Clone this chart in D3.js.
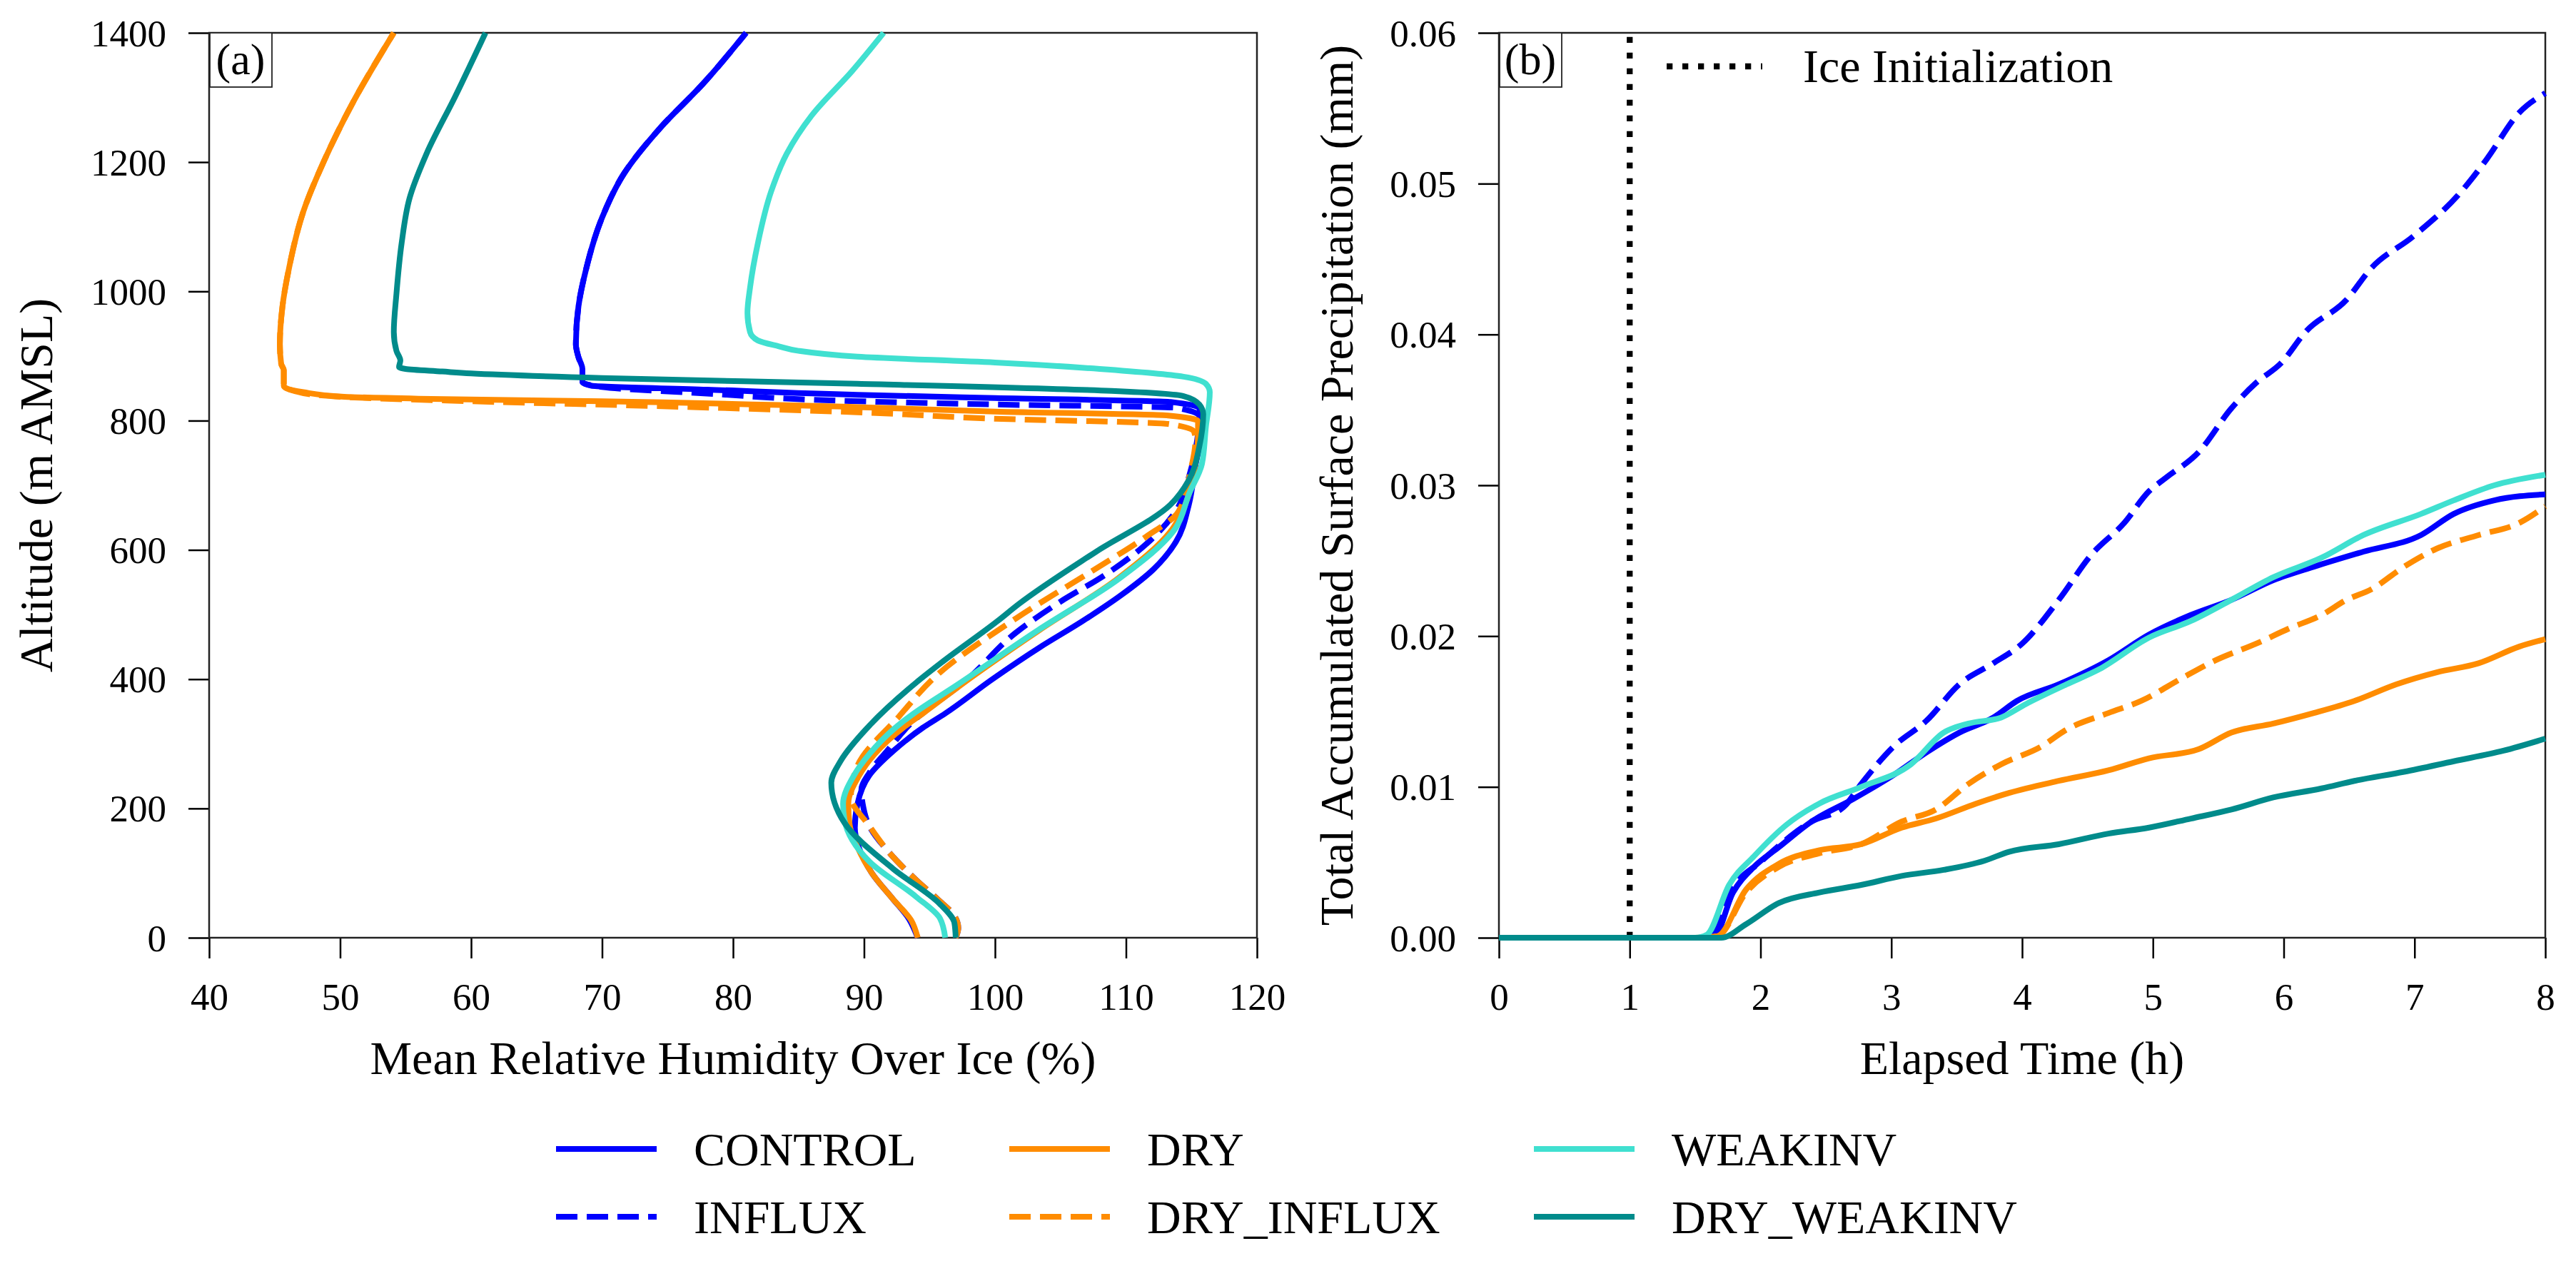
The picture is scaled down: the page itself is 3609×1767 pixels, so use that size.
<!DOCTYPE html>
<html>
<head>
<meta charset="utf-8">
<script src="https://cdn.jsdelivr.net/npm/d3@7"></script>
<style>
  body { margin: 0; background: #fff; }
  text { font-family: "Liberation Serif", "Times New Roman", serif; }
</style>
</head>
<body>
<div id="chart"></div>
<script>
// figure size and panel boxes
const width = 3609;
const height = 1767;
const panelA = {left: 293, right: 1761, top: 46, bottom: 1314};
const panelB = {left: 2100, right: 3566, top: 46, bottom: 1314};
const tickFont = 53;
const labelFont = 66;
const tagFont = 62;

// series names and colours
const seriesNames = ["CONTROL", "INFLUX", "DRY", "DRY_INFLUX", "WEAKINV", "DRY_WEAKINV"];
const seriesColors = ["#0000ff", "#0000ff", "#ff8c00", "#ff8c00", "#40e0d0", "#008b8b"];
const seriesDashed = [false, true, false, true, false, false];

// tick values
const rhTicks = [40, 50, 60, 70, 80, 90, 100, 110, 120];
const altTicks = [0, 200, 400, 600, 800, 1000, 1200, 1400];
const timeTicks = [0, 1, 2, 3, 4, 5, 6, 7, 8];
const precipTicks = [0, 0.01, 0.02, 0.03, 0.04, 0.05, 0.06];

// (a) profiles: altitude (m) and relative humidity over ice (%)
const controlAlt = [0, 30, 60, 100, 140, 170, 207, 251, 290, 325, 347, 400, 449, 490, 531, 570, 612, 670, 730, 790, 819, 829, 835, 840, 848, 854, 860, 870, 880, 898, 918, 977, 1036, 1114, 1183, 1252, 1321, 1400];
const controlRH  = [94.1, 93.4, 92.2, 90.6, 89.6, 89.3, 89.5, 90.4, 92.3, 94.5, 96.2, 99.8, 103.4, 106.7, 109.7, 112.1, 113.8, 114.8, 115.3, 115.8, 115.6, 113.4, 100, 89.5, 78, 69.2, 68.5, 68.5, 68.5, 68.2, 68.0, 68.2, 68.8, 70.0, 71.7, 74.4, 77.7, 81.0];

const influxAlt = [0, 15, 34, 60, 89, 130, 173, 207, 230, 255, 290, 332, 400, 472, 520, 560, 610, 660, 720, 780, 807, 820, 825, 830, 842, 852, 860, 870, 880, 898, 918, 977, 1036, 1114, 1183, 1252, 1321, 1400];
const influxRH  = [97.0, 97.2, 96.9, 95.6, 94.0, 92.0, 90.4, 89.9, 89.8, 90.4, 91.8, 93.6, 97.9, 101.6, 105.0, 108.3, 111.6, 113.8, 114.9, 115.5, 115.6, 113.8, 100, 89.5, 78, 70, 68.5, 68.5, 68.5, 68.2, 68.0, 68.2, 68.8, 70.0, 71.7, 74.4, 77.7, 81.0];

const dryAlt = [0, 27, 60, 100, 140, 175, 207, 250, 284, 325, 347, 400, 476, 556, 634, 686, 733, 780, 799, 808, 814, 821, 830, 834, 837, 844, 850, 854, 878, 888, 918, 977, 1036, 1124, 1203, 1293, 1400];
const dryRH  = [94.1, 93.6, 92.2, 90.6, 89.5, 88.9, 88.8, 89.6, 90.8, 93.0, 94.5, 98.0, 103.4, 109.4, 113.6, 114.8, 115.3, 115.5, 115.5, 113.2, 100, 89.5, 70, 56, 50.3, 47.2, 45.9, 45.7, 45.7, 45.5, 45.4, 45.6, 46.1, 47.2, 48.8, 51.0, 54.1];

const dryInfluxAlt = [0, 15, 34, 60, 89, 130, 173, 218, 266, 343, 405, 494, 571, 620, 659, 720, 770, 783, 795, 803, 813, 822, 830, 835, 840, 846, 852, 878, 888, 918, 977, 1036, 1124, 1203, 1293, 1400];
const dryInfluxRH  = [97.0, 97.2, 96.9, 95.6, 94.0, 92.0, 90.4, 89.0, 89.5, 92.7, 95.5, 101.6, 107.7, 111.5, 114.0, 114.9, 115.3, 115.2, 113.2, 100, 89.5, 75, 60, 52, 48, 46.5, 45.7, 45.7, 45.5, 45.4, 45.6, 46.1, 47.2, 48.8, 51.0, 54.1];

const weakinvAlt = [0, 30, 63, 118, 183, 207, 250, 284, 325, 347, 391, 476, 556, 634, 686, 733, 790, 844, 857, 868, 880, 890, 899, 908, 915, 924, 937, 967, 1006, 1075, 1154, 1213, 1272, 1341, 1400];
const weakinvRH  = [96.2, 95.8, 94.0, 90.4, 88.5, 88.4, 89.2, 90.4, 92.4, 93.8, 97.1, 103.3, 109.5, 113.8, 114.8, 115.8, 116.1, 116.4, 116.1, 114.4, 108, 100, 89.5, 85, 83.5, 81.9, 81.3, 81.1, 81.3, 81.9, 82.9, 84.1, 86.0, 89.1, 91.5];

const dryWeakinvAlt = [0, 23, 52, 107, 178, 240, 273, 328, 395, 427, 490, 516, 597, 670, 708, 760, 810, 825, 838, 846, 857, 866, 873, 876, 880, 883, 893, 908, 937, 996, 1075, 1144, 1213, 1302, 1400];
const dryWeakinvRH  = [97.0, 96.9, 95.8, 92.2, 88.5, 87.5, 88.2, 90.4, 94.0, 96.0, 100.2, 101.8, 107.7, 113.4, 114.8, 115.6, 115.9, 115.6, 114.4, 108.9, 89.5, 70, 60, 57.8, 55, 54.5, 54.6, 54.3, 54.1, 54.3, 54.7, 55.3, 56.6, 58.8, 61.1];

// (b) accumulated surface precipitation (mm) against elapsed time (h)
const controlTime   = [0, 1, 1.5, 1.64, 1.79, 1.95, 2.14, 2.39, 2.71, 3.02, 3.27, 3.52, 3.78, 3.96, 4.28, 4.66, 4.97, 5.29, 5.60, 5.92, 6.23, 6.61, 7.05, 7.30, 7.61, 8.0];
const controlPrecip = [0, 0, 0, 0, 0.0030, 0.0047, 0.0060, 0.0077, 0.0092, 0.0108, 0.0123, 0.0136, 0.0146, 0.0157, 0.0168, 0.0184, 0.0201, 0.0214, 0.0224, 0.0237, 0.0246, 0.0256, 0.0267, 0.0281, 0.0290, 0.0294];

const influxTime   = [0, 1, 1.5, 1.6, 1.76, 2.01, 2.39, 2.64, 2.77, 3.02, 3.27, 3.52, 3.78, 4.0, 4.28, 4.53, 4.78, 4.97, 5.10, 5.35, 5.60, 5.79, 5.98, 6.17, 6.48, 6.67, 6.99, 7.36, 7.55, 7.80, 8.0];
const influxPrecip = [0, 0, 0, 0, 0.0030, 0.0051, 0.0077, 0.0087, 0.0102, 0.0127, 0.0144, 0.0168, 0.0182, 0.0195, 0.0224, 0.0254, 0.0275, 0.0296, 0.0305, 0.0322, 0.0351, 0.0368, 0.0381, 0.0402, 0.0423, 0.0444, 0.0465, 0.0495, 0.0516, 0.0547, 0.0560];

const dryTime   = [0, 1, 1.5, 1.67, 1.89, 2.14, 2.45, 2.77, 3.08, 3.34, 3.65, 3.90, 4.28, 4.66, 4.97, 5.35, 5.60, 5.92, 6.23, 6.54, 6.86, 7.17, 7.49, 7.80, 8.0];
const dryPrecip = [0, 0, 0, 0.0001, 0.0032, 0.0049, 0.0058, 0.0062, 0.0073, 0.0079, 0.0089, 0.0096, 0.0104, 0.0111, 0.0119, 0.0125, 0.0136, 0.0142, 0.0149, 0.0157, 0.0168, 0.0176, 0.0182, 0.0193, 0.0198];

const dryInfluxTime   = [0, 1, 1.5, 1.67, 1.89, 2.14, 2.45, 2.77, 3.08, 3.34, 3.59, 3.84, 4.15, 4.34, 4.66, 4.91, 5.22, 5.48, 5.79, 6.04, 6.29, 6.48, 6.67, 6.92, 7.17, 7.49, 7.80, 8.0];
const dryInfluxPrecip = [0, 0, 0, 0.0001, 0.0030, 0.0047, 0.0056, 0.0062, 0.0077, 0.0085, 0.0102, 0.0115, 0.0127, 0.0138, 0.0149, 0.0157, 0.0172, 0.0184, 0.0195, 0.0205, 0.0214, 0.0224, 0.0231, 0.0246, 0.0258, 0.0267, 0.0275, 0.0286];

const weakinvTime   = [0, 1, 1.5, 1.59, 1.76, 1.95, 2.20, 2.45, 2.77, 3.15, 3.40, 3.59, 3.84, 4.03, 4.34, 4.59, 4.97, 5.29, 5.60, 5.92, 6.29, 6.61, 7.05, 7.30, 7.61, 8.0];
const weakinvPrecip = [0, 0, 0, 0.0002, 0.0035, 0.0054, 0.0075, 0.0089, 0.0100, 0.0115, 0.0136, 0.0142, 0.0146, 0.0155, 0.0168, 0.0178, 0.0199, 0.0210, 0.0224, 0.0239, 0.0252, 0.0267, 0.0281, 0.0290, 0.0300, 0.0307];

const dryWeakinvTime   = [0, 1, 1.5, 1.70, 1.89, 2.14, 2.45, 2.77, 3.08, 3.40, 3.71, 3.90, 4.28, 4.66, 4.97, 5.29, 5.60, 5.92, 6.29, 6.54, 6.92, 7.30, 7.68, 8.0];
const dryWeakinvPrecip = [0, 0, 0, 0, 0.0009, 0.0023, 0.0030, 0.0035, 0.0041, 0.0045, 0.0051, 0.0057, 0.0062, 0.0069, 0.0073, 0.0079, 0.0085, 0.0093, 0.0099, 0.0104, 0.0110, 0.0117, 0.0124, 0.0132];

// time at which ice is initialised
const iceInitTime = 1;

const profiles = [
  [controlAlt, controlRH], [influxAlt, influxRH], [dryAlt, dryRH],
  [dryInfluxAlt, dryInfluxRH], [weakinvAlt, weakinvRH], [dryWeakinvAlt, dryWeakinvRH]
];
const precips = [
  [controlTime, controlPrecip], [influxTime, influxPrecip], [dryTime, dryPrecip],
  [dryInfluxTime, dryInfluxPrecip], [weakinvTime, weakinvPrecip], [dryWeakinvTime, dryWeakinvPrecip]
];

const lineWidth = 8;
const dashPattern = "30,13";
const dotPattern = "8.3,13.7";

const svg = d3.select("#chart")
  .append("svg")
  .attr("width", width)
  .attr("height", height)
  .attr("viewBox", [0, 0, width, height]);

svg.append("rect").attr("width", width).attr("height", height).attr("fill", "#fff");

// scales
const xA = d3.scaleLinear().domain([40, 120]).range([panelA.left, panelA.right]);
const yA = d3.scaleLinear().domain([0, 1400]).range([panelA.bottom, panelA.top]);
const xB = d3.scaleLinear().domain([0, 8]).range([panelB.left, panelB.right]);
const yB = d3.scaleLinear().domain([0, 0.06]).range([panelB.bottom, panelB.top]);

// draw axes with outward ticks and a full frame
function drawAxes(panel, xScale, yScale, xTicks, yTicks, xFmt, yFmt) {
  const gx = svg.append("g")
    .attr("transform", `translate(0,${panel.bottom})`)
    .call(d3.axisBottom(xScale).tickValues(xTicks).tickFormat(xFmt)
      .tickSize(29).tickPadding(10));
  const gy = svg.append("g")
    .attr("transform", `translate(${panel.left},0)`)
    .call(d3.axisLeft(yScale).tickValues(yTicks).tickFormat(yFmt)
      .tickSize(29).tickPadding(31));
  [gx, gy].forEach(g => {
    g.select(".domain").remove();
    g.selectAll(".tick line").attr("stroke", "#000").attr("stroke-width", 2.5);
    g.selectAll(".tick text")
      .attr("font-family", "Liberation Serif, serif")
      .attr("font-size", tickFont)
      .attr("fill", "#000");
  });
  gx.selectAll(".tick text").attr("dy", "0.71em").attr("y", 63);
  gy.selectAll(".tick text").attr("dy", "0.34em");
  svg.append("rect")
    .attr("x", panel.left).attr("y", panel.top)
    .attr("width", panel.right - panel.left)
    .attr("height", panel.bottom - panel.top)
    .attr("fill", "none").attr("stroke", "#222").attr("stroke-width", 2.5);
}

drawAxes(panelA, xA, yA, rhTicks, altTicks, d3.format("d"), d3.format("d"));
drawAxes(panelB, xB, yB, timeTicks, precipTicks, d3.format("d"), d3.format(".2f"));

// (a) profile lines
const profileLine = d3.line()
  .x(d => xA(d[1]))
  .y(d => yA(d[0]))
  .curve(d3.curveMonotoneY);

profiles.forEach(([alt, rh], i) => {
  svg.append("path")
    .datum(alt.map((a, j) => [a, rh[j]]))
    .attr("d", profileLine)
    .attr("fill", "none")
    .attr("stroke", seriesColors[i])
    .attr("stroke-width", lineWidth)
    .attr("stroke-dasharray", seriesDashed[i] ? dashPattern : null);
});

// (b) ice initialisation marker
svg.append("line")
  .attr("x1", xB(iceInitTime)).attr("x2", xB(iceInitTime))
  .attr("y1", panelB.bottom).attr("y2", panelB.top)
  .attr("stroke", "#000").attr("stroke-width", 8.3)
  .attr("stroke-dasharray", dotPattern);

// (b) precipitation lines
const precipLine = d3.line()
  .x(d => xB(d[0]))
  .y(d => yB(d[1]))
  .curve(d3.curveMonotoneX);

precips.forEach(([t, p], i) => {
  svg.append("path")
    .datum(t.map((v, j) => [v, p[j]]))
    .attr("d", precipLine)
    .attr("fill", "none")
    .attr("stroke", seriesColors[i])
    .attr("stroke-width", lineWidth)
    .attr("stroke-dasharray", seriesDashed[i] ? dashPattern : null);
});

// panel tags
[["(a)", panelA], ["(b)", panelB]].forEach(([tag, panel]) => {
  svg.append("rect")
    .attr("x", panel.left + 1).attr("y", panel.top)
    .attr("width", 87).attr("height", 76)
    .attr("fill", "#fff").attr("stroke", "#222").attr("stroke-width", 1.8);
  svg.append("text")
    .attr("x", panel.left + 44).attr("y", panel.top + 58)
    .attr("text-anchor", "middle")
    .attr("font-size", tagFont)
    .text(tag);
});

// axis labels
svg.append("text")
  .attr("x", (panelA.left + panelA.right) / 2).attr("y", 1505)
  .attr("text-anchor", "middle").attr("font-size", labelFont)
  .text("Mean Relative Humidity Over Ice (%)");
svg.append("text")
  .attr("x", (panelB.left + panelB.right) / 2).attr("y", 1505)
  .attr("text-anchor", "middle").attr("font-size", labelFont)
  .text("Elapsed Time (h)");
svg.append("text")
  .attr("transform", `translate(73,${(panelA.top + panelA.bottom) / 2}) rotate(-90)`)
  .attr("text-anchor", "middle").attr("font-size", labelFont)
  .text("Altitude (m AMSL)");
svg.append("text")
  .attr("transform", `translate(1895,${(panelB.top + panelB.bottom) / 2}) rotate(-90)`)
  .attr("text-anchor", "middle").attr("font-size", labelFont)
  .text("Total Accumulated Surface Precipitation (mm)");

// (b) legend for the marker
svg.append("line")
  .attr("x1", 2335).attr("x2", 2469).attr("y1", 93).attr("y2", 93)
  .attr("stroke", "#000").attr("stroke-width", 8.3)
  .attr("stroke-dasharray", dotPattern);
svg.append("text")
  .attr("x", 2526).attr("y", 115)
  .attr("font-size", labelFont)
  .text("Ice Initialization");

// bottom legend, three columns of two rows
const legendCols = [779, 1414, 2149];
const legendRows = [1610, 1705];
seriesNames.forEach((name, i) => {
  const x0 = legendCols[Math.floor(i / 2)];
  const y0 = legendRows[i % 2];
  svg.append("line")
    .attr("x1", x0).attr("x2", x0 + 141).attr("y1", y0).attr("y2", y0)
    .attr("stroke", seriesColors[i]).attr("stroke-width", lineWidth)
    .attr("stroke-dasharray", seriesDashed[i] ? dashPattern : null);
  svg.append("text")
    .attr("x", x0 + 193).attr("y", y0 + 23)
    .attr("font-size", labelFont)
    .text(name);
});
</script>
</body>
</html>
